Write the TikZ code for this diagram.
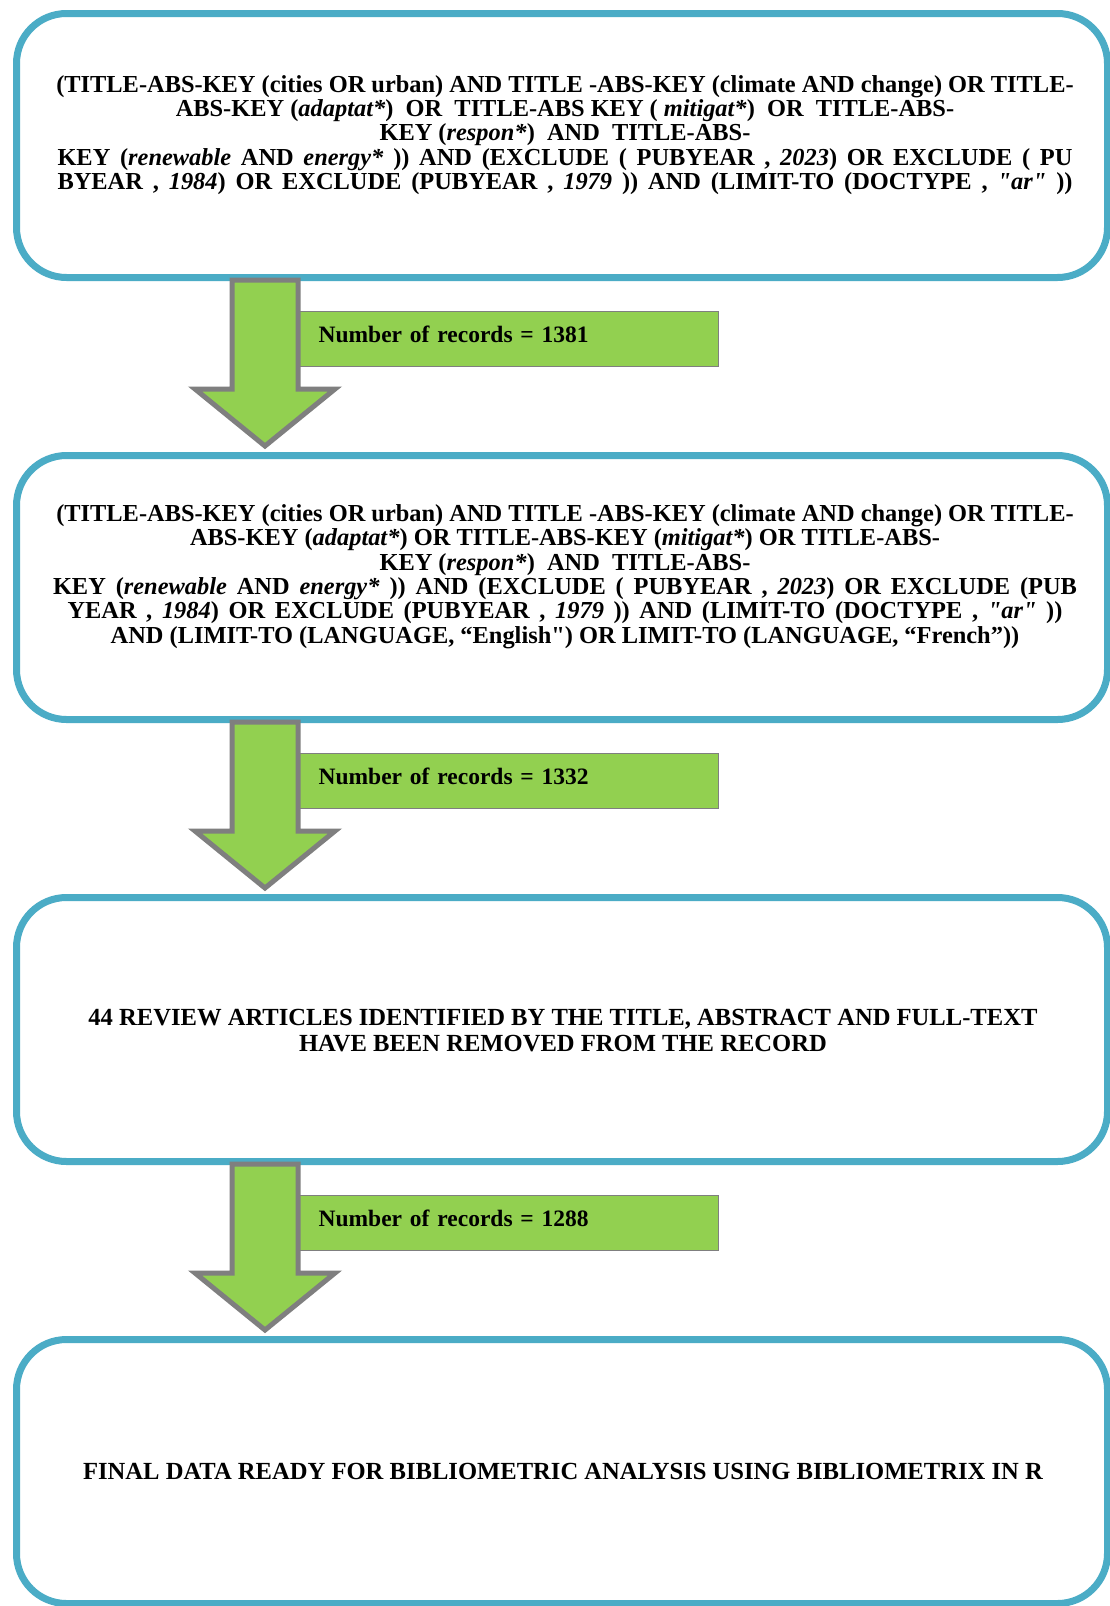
\documentclass[tikz,border=0pt]{standalone}
\usepackage{fontspec}
\setmainfont{Liberation Serif}
\usetikzlibrary{positioning,calc}
\definecolor{boxblue}{HTML}{4BACC6}
\definecolor{recgreen}{HTML}{92D050}
\definecolor{arrowgray}{HTML}{7F7F7F}
\tikzset{
  mainbox/.style={draw=boxblue, line width=7pt, rounded corners=50pt,
    minimum width=1091pt, minimum height=264pt},
  querytext/.style={font=\bfseries\fontsize{24.4}{24.3}\selectfont,
    align=center, inner sep=0pt},
  countbox/.style={draw=arrowgray, line width=1.2pt, fill=recgreen,
    minimum width=420pt, minimum height=55pt, text width=380pt,
    text height=16pt, text depth=9pt,
    inner xsep=20pt, align=left, anchor=north west,
    font=\bfseries\fontsize{23.5}{24}\selectfont},
  blockarrow/.style={draw=arrowgray, line width=5pt, fill=recgreen,
    miter limit=10}
}
\begin{document}
\begin{tikzpicture}[x=1pt,y=-1pt]
  \useasboundingbox[fill=white] (0,0) rectangle (1110,1606);
  % the four stages
  \node[mainbox] (b1) at (562,145.5) {};
  \node[mainbox, below=171pt of b1] (b2) {};
  \node[mainbox, below=171pt of b2] (b3) {};
  \node[mainbox, below=171pt of b3] (b4) {};
  \node[querytext] (q1) at ($(b1.center)+(3,-10.5)$) {%
    (TITLE-ABS-KEY (cities OR urban) AND TITLE -ABS-KEY (climate AND change) OR TITLE-\\
    ABS-KEY (\textit{adaptat*})\ \ OR\ \ TITLE-ABS KEY ( \textit{mitigat*})\ \ OR\ \ TITLE-ABS-\\
    KEY (\textit{respon*})\ \ AND\ \ TITLE-ABS-\\
    \makebox[1015pt][s]{KEY (\textit{renewable} AND \textit{energy*} )) AND (EXCLUDE ( PUBYEAR , \textit{2023}) OR EXCLUDE ( PU}\\
    \makebox[1015pt][s]{BYEAR , \textit{1984}) OR EXCLUDE (PUBYEAR , \textit{1979} )) AND (LIMIT-TO (DOCTYPE , \textit{\textquotedbl ar\textquotedbl} ))}};
  \node[querytext] (q2) at ($(b2.center)+(3,-11)$) {%
    (TITLE-ABS-KEY (cities OR urban) AND TITLE -ABS-KEY (climate AND change) OR TITLE-\\
    ABS-KEY (\textit{adaptat*}) OR TITLE-ABS-KEY (\textit{mitigat*}) OR TITLE-ABS-\\
    KEY (\textit{respon*})\ \ AND\ \ TITLE-ABS-\\
    \makebox[1024pt][s]{KEY (\textit{renewable} AND \textit{energy*} )) AND (EXCLUDE ( PUBYEAR , \textit{2023}) OR EXCLUDE (PUB}\\
    \makebox[995pt][s]{YEAR , \textit{1984}) OR EXCLUDE (PUBYEAR , \textit{1979} )) AND (LIMIT-TO (DOCTYPE , \textit{\textquotedbl ar\textquotedbl} ))}\\
    AND (LIMIT-TO (LANGUAGE, “English\textquotedbl) OR LIMIT-TO (LANGUAGE, “French”))};
  \node[querytext, font=\bfseries\fontsize{24.6}{26.6}\selectfont] (q3) at ($(b3.center)+(1,1)$) {%
    44 REVIEW ARTICLES IDENTIFIED BY THE TITLE, ABSTRACT AND FULL-TEXT\\
    HAVE BEEN REMOVED FROM THE RECORD};
  \node[querytext, font=\bfseries\fontsize{24.6}{24.3}\selectfont] (q4) at ($(b4.center)+(1,0)$) {%
    FINAL DATA READY FOR BIBLIOMETRIC ANALYSIS USING BIBLIOMETRIX IN R};
  % record counts and arrows
  \coordinate (axis) at (265,0);
  \foreach \a/\b/\n in {b1/b2/1381, b2/b3/1332, b3/b4/1288} {
    \node[countbox] (n\n) at ($(axis |- \a.south)+(33,30)$) {Number of records = \n};
    \draw[blockarrow] ($(axis |- \a.south)+(-33,-1)$)
      -- ($(axis |- \b.north)+(-33,-63)$) -- ($(axis |- \b.north)+(-70,-63)$)
      -- ($(axis |- \b.north)+(0,-6)$)
      -- ($(axis |- \b.north)+(70,-63)$) -- ($(axis |- \b.north)+(33,-63)$)
      -- ($(axis |- \a.south)+(33,-1)$) -- cycle;
  }
\end{tikzpicture}
\end{document}
